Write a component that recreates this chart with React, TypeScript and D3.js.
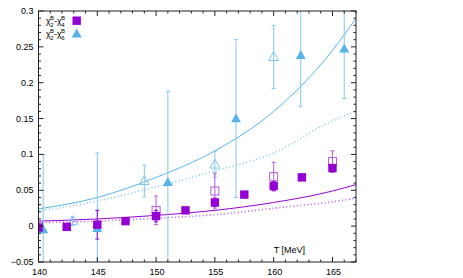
import React from 'react';
import * as d3 from 'd3';

// temperature ticks and value ticks
const T_TICKS = [140, 145, 150, 155, 160, 165];
const V_TICKS = [-0.05, 0, 0.05, 0.1, 0.15, 0.2, 0.25, 0.3];

// chi2-chi4, filled (continuum) and open (lattice) points: [T, value, error]
const chi24Filled: [number, number, number][] = [
  [140, -0.002, 0.005],
  [142.4, -0.001, 0.004],
  [145, 0.002, 0.02],
  [147.4, 0.007, 0.004],
  [150, 0.014, 0.008],
  [152.5, 0.022, 0.004],
  [155, 0.033, 0.006],
  [157.5, 0.044, 0.003],
  [160, 0.056, 0.006],
  [162.4, 0.068, 0.003],
  [165, 0.081, 0.005],
];
const chi24Open: [number, number, number][] = [
  [140, 0.0, 0.03],
  [150, 0.022, 0.02],
  [155, 0.049, 0.025],
  [160, 0.069, 0.02],
  [165, 0.09, 0.015],
];

// chi2-chi6
const chi26Filled: [number, number, number][] = [
  [140.4, -0.005, 0.105],
  [145, -0.003, 0.105],
  [151, 0.061, 0.127],
  [156.8, 0.15, 0.11],
  [162.3, 0.238, 0.071],
  [166, 0.247, 0.069],
];
const chi26Open: [number, number, number][] = [
  [142.9, 0.007, 0.006],
  [149, 0.063, 0.022],
  [155, 0.086, 0.018],
  [160, 0.236, 0.044],
];

// model curves
const blueSolid: [number, number][] = [[140, 0.024], [145, 0.04], [150, 0.068], [155, 0.105], [160, 0.16], [165, 0.245], [167, 0.29]];
const blueDotted: [number, number][] = [[140, 0.021], [145, 0.035], [150, 0.055], [155, 0.077], [160, 0.102], [165, 0.147], [167, 0.16]];
const purpleSolid: [number, number][] = [[140, 0.007], [145, 0.01], [150, 0.015], [155, 0.022], [160, 0.033], [165, 0.049], [167, 0.058]];
const purpleDotted: [number, number][] = [[140, 0.005], [145, 0.007], [150, 0.011], [155, 0.016], [160, 0.025], [165, 0.034], [167, 0.039]];

const PURPLE = '#9400d3';
const PURPLE_LIGHT = '#b65ce0';
const BLUE = '#56b4e9';
const BLUE_LIGHT = '#80c8f0';

const W = 463;
const H = 278;
const L = 38.5, R = 356, TOP = 11, BOT = 262;

export default function App() {
  const x = d3.scaleLinear().domain([140, 167]).range([L, R]);
  const y = d3.scaleLinear().domain([-0.05, 0.3]).range([BOT, TOP]);

  const line = d3.line<[number, number]>()
    .x(d => x(d[0]))
    .y(d => y(d[1]))
    .curve(d3.curveMonotoneX);

  const xMinor = d3.range(140, 168, 1);
  const yMinor = d3.range(-0.05, 0.3001, 0.01);

  const font = '"Liberation Sans", Arial, sans-serif';

  const errBars = (pts: [number, number, number][], color: string, key: string) =>
    pts.map(([t, v, e], i) => (
      <g key={key + i} stroke={color} strokeWidth={1}>
        <line x1={x(t)} x2={x(t)} y1={y(v - e)} y2={y(v + e)} />
        <line x1={x(t) - 2} x2={x(t) + 2} y1={y(v - e)} y2={y(v - e)} />
        <line x1={x(t) - 2} x2={x(t) + 2} y1={y(v + e)} y2={y(v + e)} />
      </g>
    ));

  const tri = (cx: number, cy: number, s: number) =>
    `M${cx},${cy - s * 0.6}L${cx + s * 0.55},${cy + s * 0.4}L${cx - s * 0.55},${cy + s * 0.4}Z`;

  const legendLabel = (lastSub: string, ty: number) => (
    <text x={46} y={ty}>
      χ<tspan fontSize={6} dy={2.5} dx={-0.3}>2</tspan>
      <tspan fontSize={6} dy={-6.5} dx={-3.4}>B</tspan>
      <tspan dy={4}>-χ</tspan>
      <tspan fontSize={6} dy={2.5} dx={-0.3}>{lastSub}</tspan>
      <tspan fontSize={6} dy={-6.5} dx={-3.4}>B</tspan>
    </text>
  );

  return (
    <svg width={W} height={H} style={{ position: 'absolute', left: 0, top: 0, background: '#fff' }} fontFamily={font}>
      <defs>
        <clipPath id="plot">
          <rect x={L} y={TOP} width={R - L} height={BOT - TOP} />
        </clipPath>
      </defs>

      <g clipPath="url(#plot)">
        {/* curves */}
        <path d={line(blueSolid) ?? ''} fill="none" stroke={BLUE} strokeWidth={1} />
        <path d={line(blueDotted) ?? ''} fill="none" stroke={BLUE_LIGHT} strokeWidth={1.6} strokeDasharray="1 2.5" />
        <path d={line(purpleSolid) ?? ''} fill="none" stroke={PURPLE} strokeWidth={1} />
        <path d={line(purpleDotted) ?? ''} fill="none" stroke={PURPLE_LIGHT} strokeWidth={1.6} strokeDasharray="1 2.5" />

        {/* error bars */}
        {errBars(chi26Open, BLUE_LIGHT, 'bo')}
        {errBars(chi26Filled, BLUE_LIGHT, 'bf')}
        {errBars(chi24Open, PURPLE_LIGHT, 'po')}
        {errBars(chi24Filled, PURPLE, 'pf')}

        {/* markers */}
        {chi26Open.map(([t, v], i) => (
          <path key={'bom' + i} d={tri(x(t), y(v), 9)} fill="none" stroke={BLUE_LIGHT} strokeWidth={1} />
        ))}
        {chi26Filled.map(([t, v], i) => (
          <path key={'bfm' + i} d={tri(x(t), y(v), 9)} fill={BLUE} />
        ))}
        {chi24Open.map(([t, v], i) => (
          <rect key={'pom' + i} x={x(t) - 4} y={y(v) - 4} width={8} height={8} fill="none" stroke={PURPLE_LIGHT} strokeWidth={1} />
        ))}
        {chi24Filled.map(([t, v], i) => (
          <rect key={'pfm' + i} x={x(t) - 4.2} y={y(v) - 4.2} width={8.4} height={8.4} fill={PURPLE} />
        ))}
      </g>

      {/* ticks on all four sides */}
      <g stroke="#222" strokeWidth={1}>
        {xMinor.map(t => {
          const major = T_TICKS.includes(t);
          const len = major ? 5 : 2.5;
          return (
            <g key={'xt' + t}>
              <line x1={x(t)} x2={x(t)} y1={BOT} y2={BOT - len} />
              <line x1={x(t)} x2={x(t)} y1={TOP} y2={TOP + len} />
            </g>
          );
        })}
        {yMinor.map((v, i) => {
          const major = i % 5 === 0;
          const len = major ? 5 : 2.5;
          return (
            <g key={'yt' + i}>
              <line x1={L} x2={L + len} y1={y(v)} y2={y(v)} />
              <line x1={R} x2={R - len} y1={y(v)} y2={y(v)} />
            </g>
          );
        })}
      </g>

      <rect x={L} y={TOP} width={R - L} height={BOT - TOP} fill="none" stroke="#222" strokeWidth={1} />

      {/* tick labels */}
      {V_TICKS.map(v => (
        <text key={'yl' + v} x={L - 5} y={y(v) + 3} fontSize={9} textAnchor="end" fill="#000">
          {d3.format('')(+v.toFixed(2))}
        </text>
      ))}
      {T_TICKS.map(t => (
        <text key={'xl' + t} x={x(t) + 1} y={BOT + 13} fontSize={9} textAnchor="middle" fill="#000">
          {t}
        </text>
      ))}

      <text x={305} y={253} fontSize={9} textAnchor="end" fill="#000">T [MeV]</text>

      {/* legend */}
      <g fontSize={8.5} fill="#000">
        {legendLabel('4', 24)}
        {legendLabel('6', 37)}
      </g>
      <rect x={72.5} y={16.5} width={8.4} height={8.4} fill={PURPLE} />
      <path d={tri(76.7, 34, 9)} fill={BLUE} />
    </svg>
  );
}
